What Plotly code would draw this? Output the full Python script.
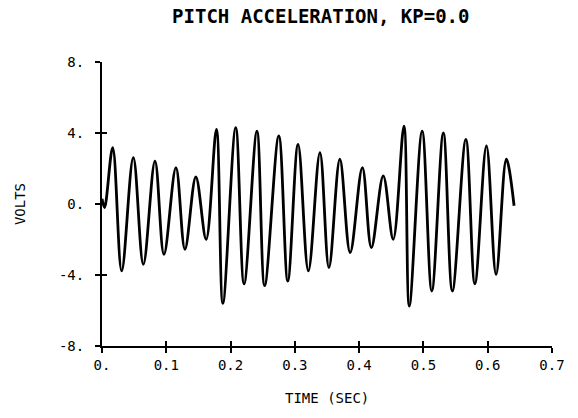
import plotly.graph_objects as go

# time (s) of the read-off turning points of the trace
time_s = [0.0, 0.004, 0.0166, 0.0306, 0.0487, 0.0643, 0.0824, 0.0964, 0.115, 0.129,
          0.146, 0.162, 0.178, 0.188, 0.208, 0.221, 0.241, 0.253, 0.275, 0.289,
          0.305, 0.321, 0.339, 0.353, 0.370, 0.386, 0.405, 0.419, 0.4375, 0.453,
          0.4697, 0.478, 0.498, 0.513, 0.531, 0.545, 0.566, 0.580, 0.598, 0.613,
          0.629, 0.641]
# volts at those points
volts = [0.3, -0.2, 3.17, -3.77, 2.61, -3.4, 2.42, -2.84, 2.05, -2.55,
         1.52, -1.99, 4.2, -5.6, 4.3, -4.5, 4.1, -4.6, 3.83, -4.34,
         3.36, -3.77, 2.9, -3.59, 2.52, -2.74, 2.05, -2.46, 1.58, -1.99,
         4.39, -5.75, 4.1, -4.9, 4.0, -4.9, 3.64, -4.5, 3.27, -3.96,
         2.52, -0.1]

x_ticks = [0, 0.1, 0.2, 0.3, 0.4, 0.5, 0.6, 0.7]
x_tick_labels = ["0.", "0.1", "0.2", "0.3", "0.4", "0.5", "0.6", "0.7"]
y_ticks = [-8, -4, 0, 4, 8]
y_tick_labels = ["-8.", "-4.", "0.", "4.", "8."]

FONT = "DejaVu Sans Mono"

fig = go.Figure()
fig.add_trace(go.Scatter(
    x=time_s, y=volts, mode="lines",
    line=dict(color="black", width=2.8, shape="spline", smoothing=1.0),
    showlegend=False, hoverinfo="skip"))
# invisible trace on the overlay axes that draw the inner half of the ticks
fig.add_trace(go.Scatter(x=[x_ticks[0]], y=[y_ticks[0]], xaxis="x2", yaxis="y2",
                         mode="markers", marker=dict(opacity=0), showlegend=False,
                         hoverinfo="skip"))

axis_common = dict(showgrid=False, zeroline=False, showline=True, linecolor="black",
                   linewidth=2, ticklen=5, tickwidth=2, tickcolor="black")

fig.update_layout(
    width=578, height=418,
    margin=dict(l=102, r=26, t=62, b=72),
    paper_bgcolor="white", plot_bgcolor="white",
    font=dict(family=FONT, color="black", size=14),
    title=dict(text="<b>PITCH ACCELERATION, KP=0.0</b>", x=0.555, xanchor="center",
               y=1 - 16 / 418, yanchor="middle", yref="container",
               font=dict(family=FONT, size=19, color="black")),
    xaxis=dict(range=[0, 0.7], tickvals=x_ticks, ticktext=x_tick_labels,
               ticks="outside", tickfont=dict(size=14), **axis_common),
    yaxis=dict(range=[-8, 8], tickvals=y_ticks, ticktext=y_tick_labels,
               ticks="outside", tickfont=dict(size=14), ticklabelstandoff=8,
               **axis_common),
    xaxis2=dict(range=[0, 0.7], tickvals=x_ticks, overlaying="x", anchor="y2",
                side="bottom", ticks="inside", showticklabels=False, **axis_common),
    yaxis2=dict(range=[-8, 8], tickvals=y_ticks, overlaying="y", anchor="x2",
                side="left", ticks="inside", showticklabels=False, **axis_common),
    annotations=[
        dict(text="TIME (SEC)", xref="paper", yref="paper", x=0.5, y=-0.183,
             showarrow=False, xanchor="center", yanchor="middle",
             font=dict(family=FONT, size=14)),
        dict(text="VOLTS", xref="paper", yref="paper", x=-0.182, y=0.5,
             showarrow=False, textangle=-90, xanchor="center", yanchor="middle",
             font=dict(family=FONT, size=14)),
    ],
)

fig.write_html("out.html")
